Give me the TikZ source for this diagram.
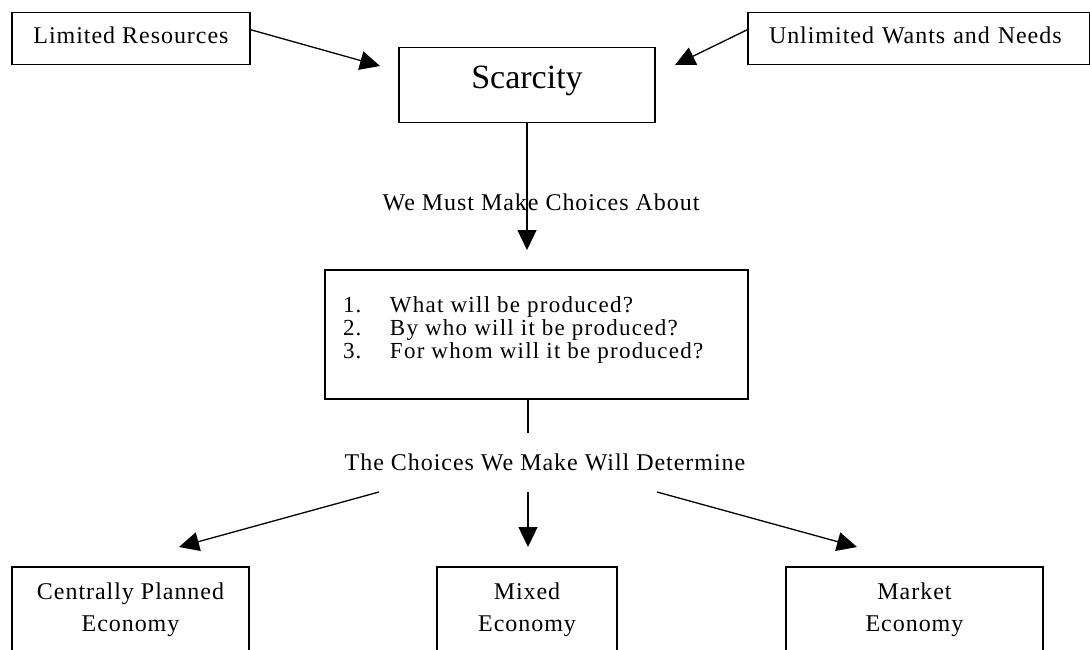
\documentclass[tikz,border=0pt]{standalone}
\usepackage{fontspec}
\setmainfont{Liberation Serif}
\newfontfamily\bmfont[LetterSpace=4]{Liberation Serif}
\newfontfamily\listfont[LetterSpace=5.5]{Liberation Serif}
\usetikzlibrary{arrows.meta}

\begin{document}
\begin{tikzpicture}[x=1pt,y=-1pt,
        box/.style={draw,line width=1.5pt,inner xsep=0pt,inner ysep=0pt,anchor=north,
            font=\bmfont\fontsize{24}{32}\selectfont},
        lbl/.style={inner sep=0pt,anchor=base,font=\bmfont\fontsize{24}{32}\selectfont},
        conn/.style={line width=1.3pt},
        arr/.style={conn,-{Triangle[length=20pt,width=19pt]}}]
        \useasboundingbox (0,0) rectangle (1090,650);
        \clip (0,0) rectangle (1090,650);
        \fill[white] (0,0) rectangle (1090,650);
        % top row
        \node[box,minimum width=238pt,text height=31pt,text depth=21pt] (limited) at (131,12) {Limited Resources};
        \node[box,minimum width=256pt,text height=41pt,text depth=34pt,font=\fontsize{34}{40}\selectfont] (scarcity) at (527,47) {Scarcity};
        \node[box,inner xsep=21pt,text width=300pt,align=left,text height=31pt,text depth=21pt] (unlimited) at (919,12) {Unlimited Wants and Needs};
        \coordinate (limtip) at (380,66);
        \coordinate (unltip) at (675,65);
        \draw[arr] ([yshift=9pt]limited.east) -- (limtip);
        \draw[arr] ([yshift=9pt]unlimited.west) -- (unltip);
        % choices
        \coordinate (abouttip) at (527,250);
        \draw[arr] (scarcity.south) -- (abouttip);
        \node[lbl] (about) at (541,210) {We Must Make Choices About};
        \node[box,inner xsep=18pt,text height=43pt,text depth=86pt,font=\listfont\fontsize{23}{22.5}\selectfont] (questions) at (536.5,269) {%
            \begin{tabular}[t]{@{}p{47pt}@{}p{340pt}@{}}
                1. & What will be produced?\\
                2. & By who will it be produced?\\
                3. & For whom will it be produced?
            \end{tabular}};
        \coordinate (stem) at (528,433);
        \draw[conn] (questions.south -| stem) -- (stem);
        \node[lbl] (determine) at (545,470) {The Choices We Make Will Determine};
        % economies
        \coordinate (plannedfrom) at (379,492);
        \coordinate (plannedtip) at (179,547);
        \coordinate (mixedfrom) at (528,492);
        \coordinate (mixedtip) at (528,547);
        \coordinate (marketfrom) at (657,492);
        \coordinate (markettip) at (857,547);
        \draw[arr] (plannedfrom) -- (plannedtip);
        \draw[arr] (mixedfrom) -- (mixedtip);
        \draw[arr] (marketfrom) -- (markettip);
        \node[box,minimum width=237pt,text height=33pt,text depth=90pt] (planned) at (130.5,566) {%
            \begin{tabular}[t]{@{}c@{}}Centrally Planned\\Economy\end{tabular}};
        \node[box,minimum width=180pt,text height=33pt,text depth=90pt] (mixed) at (527,566) {%
            \begin{tabular}[t]{@{}c@{}}Mixed\\Economy\end{tabular}};
        \node[box,minimum width=257pt,text height=33pt,text depth=90pt] (market) at (914.5,566) {%
            \begin{tabular}[t]{@{}c@{}}Market\\Economy\end{tabular}};
    \end{tikzpicture}
\end{document}
